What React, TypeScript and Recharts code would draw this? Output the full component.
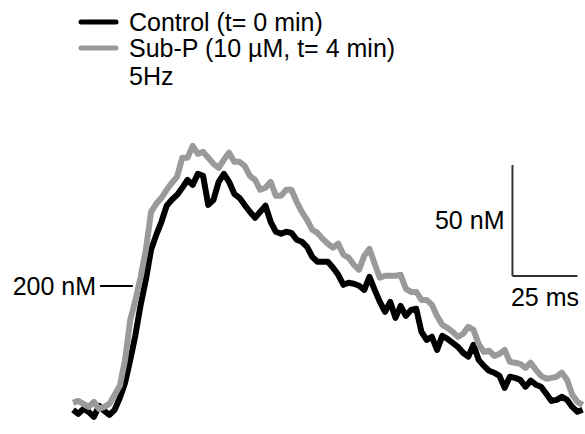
import { Label, Line, LineChart, ReferenceLine, XAxis, YAxis } from "recharts";

// sample times (ms) and [Ca2+] (nM)
const TIME_MS = [
  0, 2, 4, 6, 8, 10, 12, 14, 16, 18, 20, 22, 24, 26, 28, 30, 32, 34, 36, 38,
  40, 42, 44, 46, 48, 50, 52, 54, 56, 58, 60, 62, 64, 66, 68, 70, 72, 74, 76, 78,
  80, 82, 84, 86, 88, 90, 92, 94, 96, 98, 100, 102, 104, 106, 108, 110, 112, 114, 116, 118,
  120, 122, 124, 126, 128, 130, 132, 134, 136, 138, 140, 142, 144, 146, 148, 150, 152, 154, 156, 158,
  160, 162, 164, 166, 168, 170, 172, 174, 176, 178, 180, 182, 184, 186, 188, 190, 192, 194, 196,
];

const CONTROL = [
  144.2, 142.4, 144.6, 143.3, 141.0, 146.0, 143.7, 141.9, 144.2, 149.6,
  156.4, 166.7, 178.0, 191.5, 202.8, 216.3, 223.0, 228.9, 236.1, 238.8,
  241.0, 244.2, 247.8, 245.5, 250.5, 249.6, 236.5, 238.8, 246.9, 250.5,
  246.9, 241.5, 239.7, 236.5, 233.4, 230.7, 233.4, 236.1, 228.9, 224.4,
  223.5, 224.4, 223.9, 220.8, 219.9, 217.6, 213.1, 210.9, 210.9, 210.9,
  208.2, 205.0, 200.5, 201.4, 201.0, 200.1, 198.2, 204.1, 198.2, 192.8,
  188.3, 192.8, 185.6, 191.0, 186.5, 189.2, 189.7, 179.3, 175.7, 177.1,
  171.2, 177.5, 176.2, 174.4, 172.6, 169.9, 168.1, 173.5, 166.7, 164.0,
  161.8, 160.9, 159.5, 154.1, 159.1, 158.6, 157.7, 154.6, 157.3, 155.5,
  154.6, 151.4, 148.2, 148.7, 150.1, 148.7, 145.5, 143.3, 144.2,
];

const SUBP = [
  147.3, 148.2, 146.9, 145.5, 147.8, 144.6, 145.5, 146.9, 151.0, 155.0,
  166.7, 184.7, 193.7, 204.1, 216.3, 233.4, 237.0, 239.7, 243.3, 246.4,
  249.2, 257.7, 257.7, 263.1, 259.5, 260.4, 257.7, 255.0, 253.2, 256.8,
  260.0, 255.9, 255.9, 254.1, 249.6, 247.8, 243.3, 244.2, 246.9, 240.6,
  240.6, 243.3, 243.3, 237.9, 233.4, 229.8, 225.3, 223.9, 221.2, 219.0,
  217.2, 219.0, 214.0, 212.7, 209.5, 207.3, 213.6, 216.7, 210.0, 203.7,
  204.6, 204.6, 204.6, 205.0, 198.7, 197.3, 197.3, 193.7, 193.7, 191.5,
  186.5, 182.5, 181.1, 179.3, 177.1, 178.4, 181.6, 180.2, 173.9, 170.3,
  170.8, 168.5, 169.4, 171.2, 165.8, 165.4, 164.9, 163.1, 165.4, 162.2,
  159.5, 158.2, 158.6, 159.1, 160.9, 157.7, 151.0, 147.8, 146.4,
];

const SERIES = [
  { key: "control", name: "Control (t= 0 min)", color: "#000000" },
  { key: "subp", name: "Sub-P (10 µM, t= 4 min)", color: "#9a9a9a" },
];

// scale bars and the 200 nM marker, in data units
const BAR_T = 169;
const BAR_C = 204.5;
const BAR_NM = 50;
const BAR_MS = 25;
const MARK_NM = 200;
const MARK_T = [10.4, 23];

const FONT = "'Liberation Sans', Arial, sans-serif";

const data = TIME_MS.map((t, i) => ({ t, control: CONTROL[i], subp: SUBP[i] }));

const labelStyle = { fill: "#000", fontSize: 25, fontFamily: FONT };

export default function App() {
  return (
    <div style={{ position: "absolute", left: 0, top: 0, width: 585, height: 434, background: "#fff" }}>
      <LineChart width={585} height={434} data={data} margin={{ top: 0, right: 0, bottom: 0, left: 0 }}>
        <XAxis dataKey="t" type="number" domain={[-28.1, 196.9]} hide allowDataOverflow />
        <YAxis type="number" domain={[133.3, 328.8]} hide allowDataOverflow />
        {SERIES.map((s) => (
          <Line
            key={s.key}
            dataKey={s.key}
            name={s.name}
            stroke={s.color}
            strokeWidth={6}
            strokeLinejoin="round"
            dot={false}
            type="linear"
            isAnimationActive={false}
          />
        ))}
        <ReferenceLine
          segment={[{ x: MARK_T[0], y: MARK_NM }, { x: MARK_T[1], y: MARK_NM }]}
          stroke="#000"
          strokeWidth={2}
          ifOverflow="visible"
        >
          <Label value="200 nM" position="left" offset={4} {...labelStyle} />
        </ReferenceLine>
        <ReferenceLine
          segment={[{ x: BAR_T, y: BAR_C }, { x: BAR_T, y: BAR_C + BAR_NM }]}
          stroke="#333"
          strokeWidth={2}
          ifOverflow="visible"
        >
          <Label value="50 nM" position="left" offset={8} {...labelStyle} />
        </ReferenceLine>
        <ReferenceLine
          segment={[{ x: BAR_T, y: BAR_C }, { x: BAR_T + BAR_MS, y: BAR_C }]}
          stroke="#333"
          strokeWidth={2}
          ifOverflow="visible"
        >
          <Label value="25 ms" position="bottom" offset={12} {...labelStyle} />
        </ReferenceLine>
      </LineChart>
      <svg width={585} height={100} style={{ position: "absolute", left: 0, top: 0 }}>
        {SERIES.map((s, i) => (
          <g key={s.key}>
            <line x1={81} x2={116} y1={22 + i * 26} y2={22 + i * 26} stroke={s.color} strokeWidth={5} strokeLinecap="round" />
            <text x={129} y={31 + i * 26} fontSize={25} fontFamily={FONT} fill="#000">
              {s.name}
            </text>
          </g>
        ))}
        <text x={129} y={85} fontSize={25} fontFamily={FONT} fill="#000">
          5Hz
        </text>
      </svg>
    </div>
  );
}
